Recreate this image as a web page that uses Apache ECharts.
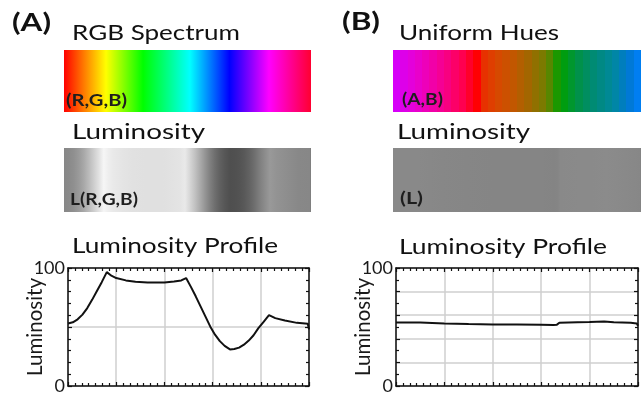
<!DOCTYPE html>
<html><head><meta charset="utf-8">
<script src="https://cdn.jsdelivr.net/npm/echarts@6/dist/echarts.min.js"></script>
<style>html,body{margin:0;padding:0;background:#fff}#c{width:641px;height:395px}</style>
</head><body><div id="c"></div>
<script>
// ---- data ----
const positionA = [0,0.02,0.04,0.06,0.08,0.10,0.12,0.14,0.161,0.18,0.2,0.24,0.28,0.33,0.4,0.44,0.47,0.49,0.51,0.53,0.55,0.57,0.59,0.61,0.63,0.65,0.672,0.69,0.71,0.73,0.75,0.77,0.79,0.81,0.834,0.86,0.9,0.95,0.995,1];
const luminosityA = [53,54,56.5,60.5,66,73,80.5,88,96.5,93.5,91.5,89.5,88.3,87.8,87.8,88.5,89.5,91.5,84,76,67.5,59,50.5,43.5,38,34,31,31.3,32.5,35,38.5,43,49,54,60,57.5,55.5,53.5,52.8,48];
const positionB = [0,0.1,0.2,0.3,0.4,0.5,0.6,0.65,0.665,0.675,0.75,0.8,0.86,0.9,0.97,0.995,1];
const luminosityB = [53.9,53.8,53,52.5,52.2,52.2,52,51.7,52,53.6,54,54.2,54.7,54,53.5,53,51];
const rgbSpectrumOffsets = [0,0.08,0.17,0.32,0.51,0.67,0.83,1];
const rgbSpectrumColors = ['#ff0000','#ff7a00','#ffff00','#00ff00','#00ffff','#0000ff','#ff00ff','#ff0030'];
const uniformHueOffsets = [0,0.08,0.15,0.22,0.28,0.34,0.365,0.42,0.49,0.55,0.62,0.675,0.755,0.82,0.89,0.95,1];
const uniformHueColors = ['#d200ff','#e600d8','#f000b0','#f80080','#ff0050','#ff0000','#e83000','#d84800','#c05800','#a06800','#708000','#00a000','#009050','#008a7a','#0088a0','#0078d0','#0080ff'];
const yTickLabels = [0, 100];
const panelLabels = ['(A)', '(B)'];
const stripTitles = ['RGB Spectrum', 'Luminosity', 'Uniform Hues', 'Luminosity'];
const stripTags = ['(R,G,B)', 'L(R,G,B)', '(A,B)', '(L)'];
const profileTitle = 'Luminosity Profile';
const axisName = 'Luminosity';

// ---- build ----
const chart = echarts.init(document.getElementById('c'));
const FONT = 'Lato, "Open Sans", sans-serif';
const grayOf = L => { const g = Math.max(0, Math.min(255, Math.round(L * 2.55))); return 'rgb(' + g + ',' + g + ',' + g + ')'; };
const grad = (stops) => new echarts.graphic.LinearGradient(0, 0, 1, 0, stops);
const smoothStops = (offs, cols) => offs.map((o, i) => ({offset: o, color: cols[i]}));
function rampColor(offs, cols, t) {
  let k = 0; while (k < offs.length - 2 && t > offs[k + 1]) k++;
  const f = Math.max(0, Math.min(1, (t - offs[k]) / (offs[k + 1] - offs[k])));
  return echarts.color.lerp(f, [cols[k], cols[k + 1]]);
}
// banded (stepped) rendering of a colour ramp, as in the printed strip
function bandedStops(offs, cols, nBands) {
  const stops = [];
  for (let b = 0; b < nBands; b++) {
    const c = rampColor(offs, cols, (b + 0.5) / nBands);
    stops.push({offset: b / nBands, color: c}, {offset: (b + 1) / nBands, color: c});
  }
  return stops;
}

const strips = [
  {rect: {left: 64, top: 50, width: 247, height: 62}, fill: grad(smoothStops(rgbSpectrumOffsets, rgbSpectrumColors))},
  {rect: {left: 64, top: 148, width: 247, height: 64}, fill: grad(smoothStops(positionA, luminosityA.map(grayOf)))},
  {rect: {left: 393, top: 50, width: 248, height: 62}, fill: grad(bandedStops(uniformHueOffsets, uniformHueColors, 34))},
  {rect: {left: 393, top: 148, width: 248, height: 64}, fill: grad(smoothStops(positionB, luminosityB.map(grayOf)))}
];
const profiles = [
  {rect: {left: 68, top: 268, width: 241, height: 120}, xs: positionA, ys: luminosityA, yInterval: 50, minorY: 5},
  {rect: {left: 396, top: 268, width: 242, height: 120}, xs: positionB, ys: luminosityB, yInterval: 20, minorY: 2}
];

const grid = [], xAxis = [], yAxis = [], series = [];
strips.forEach(s => {
  const gi = grid.length;
  grid.push(Object.assign({containLabel: false}, s.rect));
  xAxis.push({gridIndex: gi, type: 'value', min: 0, max: 1, show: false});
  yAxis.push({gridIndex: gi, type: 'category', data: ['s'], show: false});
  series.push({type: 'bar', xAxisIndex: xAxis.length - 1, yAxisIndex: yAxis.length - 1, data: [1], barWidth: '100%', silent: true, itemStyle: {color: s.fill}});
});
const axisLine = {show: true, onZero: false, lineStyle: {color: '#111', width: 1.5}};
const tick = {show: true, inside: true, length: 4, lineStyle: {color: '#111', width: 1.2}};
const minorTickStyle = n => ({show: true, splitNumber: n, length: 3, lineStyle: {color: '#111', width: 1.2}});
profiles.forEach(p => {
  const gi = grid.length;
  grid.push(Object.assign({containLabel: false}, p.rect));
  const xi = xAxis.length;
  xAxis.push({gridIndex: gi, type: 'value', min: 0, max: 1, interval: 0.2, position: 'bottom',
    axisLine, axisTick: tick, minorTick: minorTickStyle(7), axisLabel: {show: false},
    splitLine: {show: true, lineStyle: {color: '#cfcfcf', width: 1.5}}});
  xAxis.push({gridIndex: gi, type: 'value', min: 0, max: 1, interval: 0.2, position: 'top',
    axisLine, axisTick: tick, minorTick: minorTickStyle(7), axisLabel: {show: false}, splitLine: {show: false}});
  const yi = yAxis.length;
  yAxis.push({gridIndex: gi, type: 'value', min: 0, max: 100, interval: p.yInterval, position: 'left',
    axisLine, axisTick: tick, minorTick: minorTickStyle(p.minorY),
    axisLabel: {show: true, margin: 3, color: '#1a1a1a', fontFamily: FONT, fontSize: 18,
      formatter: v => yTickLabels.includes(v) ? String(v) : ''},
    splitLine: {show: true, lineStyle: {color: '#cfcfcf', width: 1.5}},
    name: axisName, nameLocation: 'middle', nameRotate: 90, nameGap: 22, nameMoveOverlap: false,
    nameTextStyle: {color: '#1a1a1a', fontFamily: FONT, fontSize: 20.5}});
  yAxis.push({gridIndex: gi, type: 'value', min: 0, max: 100, interval: p.yInterval, position: 'right',
    axisLine, axisTick: tick, minorTick: minorTickStyle(p.minorY), axisLabel: {show: false}, splitLine: {show: false}});
  series.push({type: 'line', xAxisIndex: xi, yAxisIndex: yi, showSymbol: false, symbol: 'none', silent: true,
    lineStyle: {color: '#111', width: 2}, data: p.xs.map((x, i) => [x, p.ys[i]])});
});

// text fitted to the width it occupies in the figure
const ctx = document.createElement('canvas').getContext('2d');
function txt(text, x, y, size, weight, width, fill) {
  const font = (weight || 'normal') + ' ' + size + 'px ' + FONT;
  ctx.font = font;
  const w = ctx.measureText(text).width;
  return {type: 'text', x, y, z: 100, zlevel: 0, scaleX: width / w, scaleY: 1, silent: true,
    style: {text, fill: fill || '#111', font, verticalAlign: 'top'}};
}
const graphic = {elements: [
  txt(panelLabels[0], 12, 11, 24, 'bold', 39),
  txt(panelLabels[1], 342, 10, 24, 'bold', 38),
  txt(stripTitles[0], 72, 22, 22, 'normal', 168),
  txt(stripTitles[1], 72, 121, 22, 'normal', 133),
  txt(stripTitles[2], 399, 22, 22, 'normal', 160),
  txt(stripTitles[3], 397, 121, 22, 'normal', 133),
  txt(profileTitle, 72, 235, 22, 'normal', 206),
  txt(profileTitle, 399, 236, 22, 'normal', 208),
  txt(stripTags[0], 66, 92, 17, 'bold', 61, '#1e1e1e'),
  txt(stripTags[1], 70, 191, 17, 'bold', 68, '#1e1e1e'),
  txt(stripTags[2], 402, 91, 17, 'bold', 41, '#1e1e1e'),
  txt(stripTags[3], 400, 190, 17, 'bold', 23, '#1e1e1e')
]};

chart.setOption({animation: false, backgroundColor: '#fff', grid, xAxis, yAxis, series, graphic});
</script></body></html>
